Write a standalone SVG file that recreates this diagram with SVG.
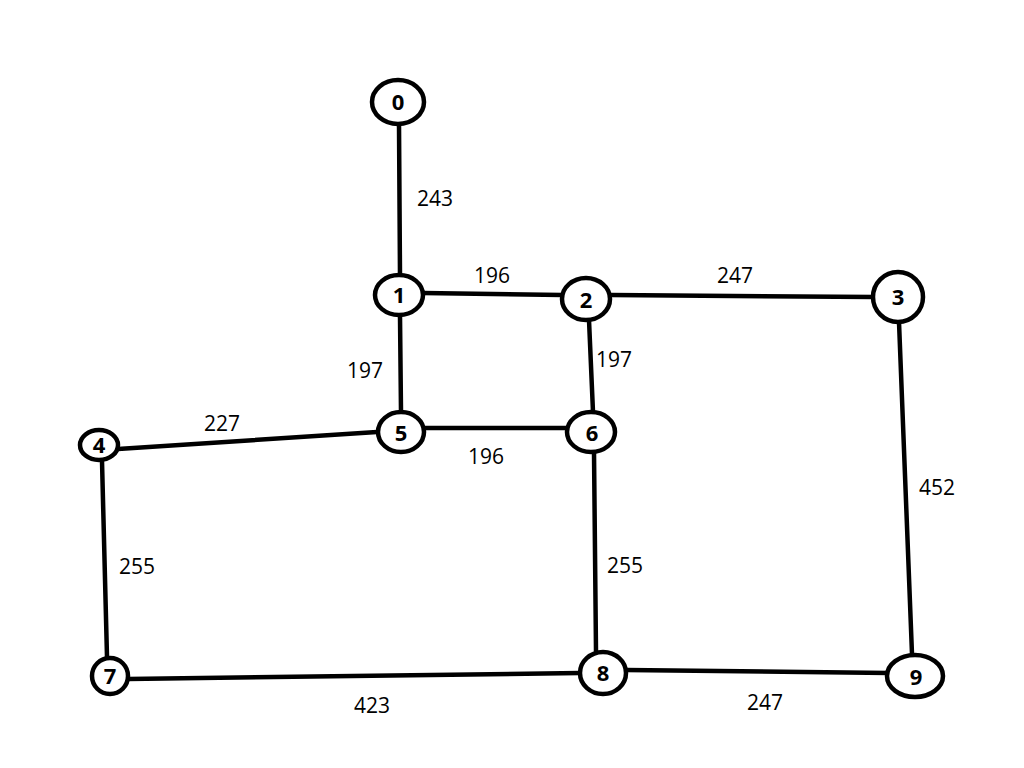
<svg xmlns="http://www.w3.org/2000/svg" width="1024" height="768" viewBox="0 0 1024 768">
<style>
.e{stroke:#000;stroke-width:4.5;fill:none;stroke-linecap:round}
.n{fill:#fff;stroke:#000;stroke-width:4.5}
.t{font-family:"Open Sans","Noto Sans",sans-serif;font-weight:bold;font-size:22px;text-anchor:middle;fill:#000}
.w{font-family:"Open Sans","Noto Sans",sans-serif;font-size:21px;text-anchor:middle;fill:#000}
</style>
<rect width="1024" height="768" fill="#fff"/>
<g id="edges">
<line class="e" x1="399" y1="124" x2="400" y2="276"/>
<line class="e" x1="423" y1="293" x2="562" y2="295"/>
<line class="e" x1="611" y1="295" x2="874" y2="297"/>
<line class="e" x1="400" y1="316" x2="401" y2="412"/>
<line class="e" x1="589" y1="320" x2="593" y2="412"/>
<line class="e" x1="118" y1="449" x2="377" y2="432"/>
<line class="e" x1="425" y1="428" x2="567" y2="428"/>
<line class="e" x1="899" y1="322" x2="912" y2="654"/>
<line class="e" x1="102" y1="461" x2="107" y2="657"/>
<line class="e" x1="594" y1="452" x2="596" y2="651"/>
<line class="e" x1="128" y1="679" x2="580" y2="673"/>
<line class="e" x1="626" y1="670" x2="889" y2="673"/>
</g>
<g id="labels">
<text class="w" x="435" y="206">243</text>
<text class="w" x="492" y="283">196</text>
<text class="w" x="735" y="283">247</text>
<text class="w" x="365" y="378">197</text>
<text class="w" x="614" y="367">197</text>
<text class="w" x="222" y="431">227</text>
<text class="w" x="486" y="464">196</text>
<text class="w" x="937" y="495">452</text>
<text class="w" x="137" y="574">255</text>
<text class="w" x="625" y="573">255</text>
<text class="w" x="372" y="713">423</text>
<text class="w" x="765" y="710">247</text>
</g>
<g id="node0"><ellipse class="n" cx="398" cy="102" rx="26" ry="22"/><text class="t" x="398" y="110">0</text></g>
<g id="node1"><ellipse class="n" cx="399" cy="295" rx="24" ry="20"/><text class="t" x="399" y="303">1</text></g>
<g id="node2"><ellipse class="n" cx="586" cy="299" rx="24" ry="21"/><text class="t" x="586" y="308">2</text></g>
<g id="node3"><ellipse class="n" cx="898" cy="297" rx="25" ry="25"/><text class="t" x="898" y="305">3</text></g>
<g id="node4"><ellipse class="n" cx="99" cy="445" rx="19" ry="15"/><text class="t" x="99" y="453">4</text></g>
<g id="node5"><ellipse class="n" cx="401" cy="432" rx="23" ry="20"/><text class="t" x="401" y="441">5</text></g>
<g id="node6"><ellipse class="n" cx="591" cy="432" rx="24" ry="20"/><text class="t" x="592" y="441">6</text></g>
<g id="node7"><ellipse class="n" cx="110" cy="676" rx="18" ry="18"/><text class="t" x="110" y="684">7</text></g>
<g id="node8"><ellipse class="n" cx="603" cy="673" rx="23" ry="21"/><text class="t" x="603" y="681">8</text></g>
<g id="node9"><ellipse class="n" cx="915" cy="676" rx="28" ry="21"/><text class="t" x="916" y="685">9</text></g>
</svg>
